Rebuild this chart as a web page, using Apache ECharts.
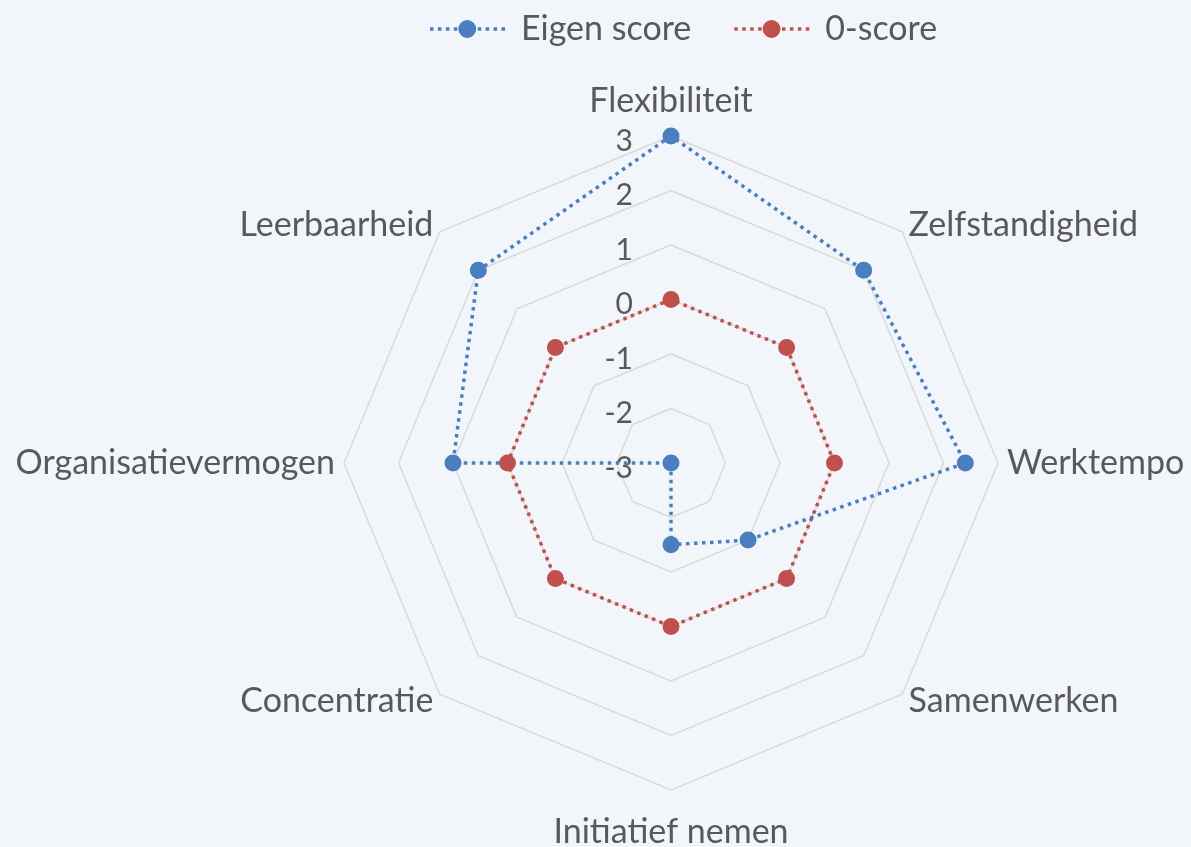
<!DOCTYPE html>
<html>
<head>
<meta charset="utf-8">
<script src="https://cdn.jsdelivr.net/npm/echarts@6/dist/echarts.min.js"></script>
<style>
  html, body { margin: 0; padding: 0; background: #f2f6fa; }
  #chart { width: 1191px; height: 847px; }
</style>
</head>
<body>
<div id="chart"></div>
<script>
// clockwise from the top, like the reference
const indicatorNames = ['Flexibiliteit', 'Zelfstandigheid', 'Werktempo', 'Samenwerken',
  'Initiatief nemen', 'Concentratie', 'Organisatievermogen', 'Leerbaarheid']
const eigenScore = [3, 2, 2.4, -1, -1.5, -3, 1, 2]
const nulScore = [0, 0, 0, 0, 0, 0, 0, 0]
const seriesNames = ['Eigen score', '0-score']
const axisMin = -3
const axisMax = 3

// echarts radar runs counter-clockwise, so keep the first one and flip the rest
const ccw = arr => [arr[0]].concat(arr.slice(1).reverse())

const textColor = '#595959'
const fontFamily = 'Lato, "Open Sans", sans-serif'

// dotted line + circle, for the legend
const dotIcon = 'path://M0,7.5h3.5v3.5h-3.5z M8,7.5h3.5v3.5h-3.5z M16,7.5h3.5v3.5h-3.5z M24,7.5h3.5v3.5h-3.5z' +
  'M28.5,9.25a9,9 0 1,0 18,0a9,9 0 1,0 -18,0z' +
  'M48,7.5h3.5v3.5h-3.5z M56,7.5h3.5v3.5h-3.5z M64,7.5h3.5v3.5h-3.5z M72,7.5h3.5v3.5h-3.5z'

const myChart = echarts.init(document.getElementById('chart'))

const indicator = ccw(indicatorNames).map((name, i) => {
  const ind = {name: name, min: axisMin, max: axisMax}
  if (i === 0) {
    // only the top axis carries the tick labels
    ind.axisLabel = {
      show: true,
      margin: 38,
      formatter: v => '{a|' + v + '}',
      rich: {
        a: {color: textColor, fontSize: 30, fontFamily: fontFamily, padding: [10, 0, 0, 0]}
      }
    }
  }
  return ind
})

const option = {
  backgroundColor: '#f2f6fa',
  legend: {
    top: 7,
    left: 425,
    itemWidth: 75,
    itemHeight: 18,
    itemGap: 43,
    data: seriesNames.map(n => ({name: n, icon: dotIcon})),
    textStyle: {
      color: textColor,
      fontSize: 34,
      fontFamily: fontFamily,
      padding: [0, 0, 0, 11]
    }
  },
  radar: {
    center: [671, 463],
    radius: 327,
    splitNumber: 6,
    shape: 'polygon',
    indicator: indicator,
    axisName: {
      color: textColor,
      fontSize: 34,
      fontFamily: fontFamily,
      padding: [16, 0, 9, 0]
    },
    nameGap: 9,
    axisLine: {show: false},
    axisTick: {show: false},
    splitArea: {show: false},
    splitLine: {lineStyle: {color: '#d9d9d9', width: 1.5}}
  },
  series: [{
    type: 'radar',
    symbol: 'circle',
    symbolSize: 17,
    data: [
      {
        name: seriesNames[1],
        value: ccw(nulScore),
        itemStyle: {color: '#c0504d'},
        lineStyle: {color: '#c0504d', width: 3.5, type: [3.5, 4.5]}
      },
      {
        name: seriesNames[0],
        value: ccw(eigenScore),
        itemStyle: {color: '#4a7ebf'},
        lineStyle: {color: '#4a7ebf', width: 3.5, type: [3.5, 4.5]}
      }
    ]
  }]
}

myChart.setOption(option)
</script>
</body>
</html>
